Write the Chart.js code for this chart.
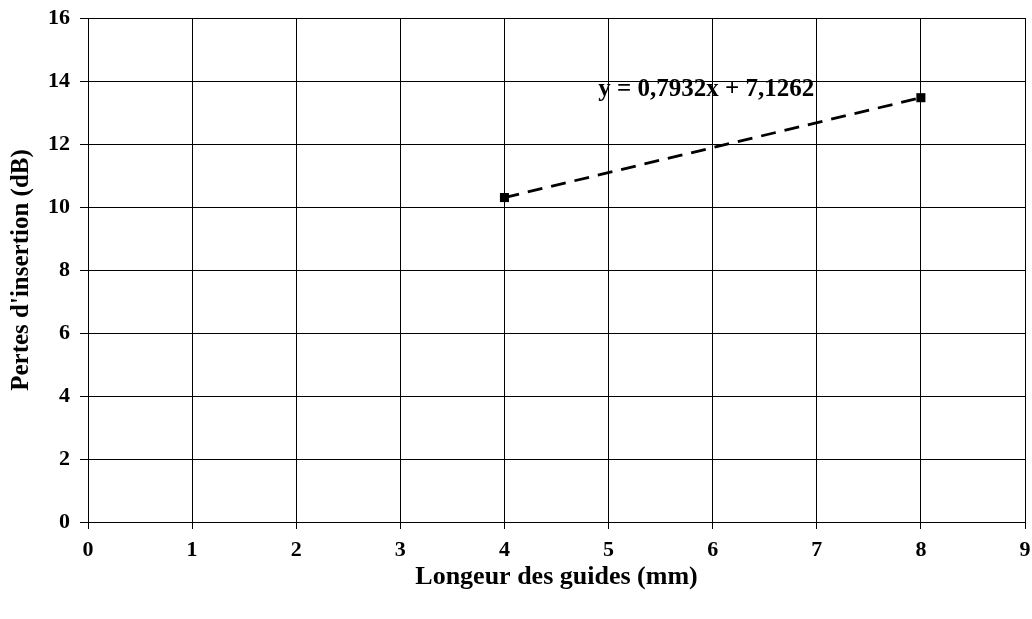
<!DOCTYPE html>
<html>
<head>
<meta charset="utf-8">
<script src="https://cdn.jsdelivr.net/npm/chart.js@4.4.1/dist/chart.umd.min.js"></script>
<style>
  html, body { margin: 0; padding: 0; background: #fff; }
  #wrap { width: 1032px; height: 619px; position: relative; }
</style>
</head>
<body>
<div id="wrap"><canvas id="c" width="1032" height="619"></canvas></div>
<script>
// Guide length (mm) and measured insertion loss (dB)
const longueurs = [4, 8];
const pertes = [10.3, 13.47];

// Linear fit coefficients shown in the equation label
const pente = 0.7932;
const ordonnee = 7.1262;

const xTicks = [0, 1, 2, 3, 4, 5, 6, 7, 8, 9];
const yTicks = [0, 2, 4, 6, 8, 10, 12, 14, 16];

const police = "'Liberation Serif', 'Times New Roman', serif";

const points = longueurs.map((x, i) => ({ x: x, y: pertes[i] }));

// Draws the regression equation next to the fitted line
const equationPlugin = {
  id: 'equation',
  afterDatasetsDraw(chart) {
    const { ctx, scales } = chart;
    const txt = 'y = ' + pente.toFixed(4).replace('.', ',') + 'x + ' + ordonnee.toFixed(4).replace('.', ',');
    ctx.save();
    ctx.font = "bold 25px " + police;
    ctx.fillStyle = '#000';
    ctx.textAlign = 'left';
    ctx.textBaseline = 'middle';
    ctx.fillText(txt, scales.x.getPixelForValue(4.9), scales.y.getPixelForValue(13.72));
    ctx.restore();
  }
};

new Chart(document.getElementById('c'), {
  type: 'scatter',
  data: {
    datasets: [{
      data: points,
      showLine: true,
      borderColor: '#000',
      borderWidth: 2.8,
      borderDash: [15, 9],
      backgroundColor: '#000',
      pointStyle: 'rect',
      pointRadius: 6.4,
      pointBorderWidth: 0,
      pointBackgroundColor: '#000'
    }]
  },
  options: {
    responsive: false,
    animation: false,
    devicePixelRatio: 1,
    layout: { padding: { top: 18, right: 7, left: 0, bottom: 0 } },
    plugins: {
      legend: { display: false },
      tooltip: { enabled: false }
    },
    scales: {
      x: {
        type: 'linear',
        min: 0,
        max: 9,
        afterBuildTicks(scale) { scale.ticks = xTicks.map(v => ({ value: v })); },
        afterFit(scale) {
          scale.height = 97;
          scale.paddingLeft = 0;
          scale.paddingRight = 0;
        },
        grid: { color: '#000', lineWidth: 1, tickLength: 7, drawTicks: true },
        border: { color: '#000', width: 1 },
        ticks: { color: '#000', font: { family: police, size: 22, weight: 'bold' }, padding: 8, maxRotation: 0 },
        title: {
          display: true,
          text: 'Longeur des guides (mm)',
          color: '#000',
          font: { family: police, size: 26, weight: 'bold' },
          padding: { top: 0, bottom: 26 }
        }
      },
      y: {
        type: 'linear',
        min: 0,
        max: 16,
        afterBuildTicks(scale) { scale.ticks = yTicks.map(v => ({ value: v })); },
        afterFit(scale) {
          scale.width = 88;
          scale.paddingTop = 0;
          scale.paddingBottom = 0;
        },
        grid: { color: '#000', lineWidth: 1, tickLength: 8, drawTicks: true },
        border: { color: '#000', width: 1 },
        ticks: { color: '#000', font: { family: police, size: 22, weight: 'bold' }, padding: 10 },
        title: {
          display: true,
          text: "Pertes d'insertion (dB)",
          color: '#000',
          font: { family: police, size: 25, weight: 'bold' },
          padding: { top: 7, bottom: 0 }
        }
      }
    }
  },
  plugins: [equationPlugin]
});
</script>
</body>
</html>
